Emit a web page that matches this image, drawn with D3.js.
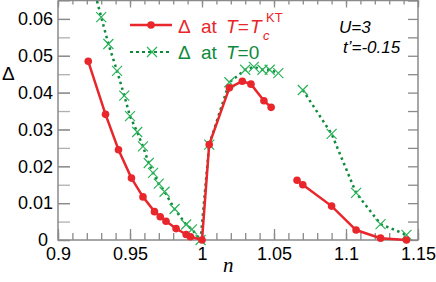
<!DOCTYPE html>
<html>
<head>
<meta charset="utf-8">
<script src="https://cdn.jsdelivr.net/npm/d3@7"></script>
<style>
  body { margin: 0; background: #fff; }
  svg { display: block; font-family: "Liberation Sans", Arial, sans-serif; }
  .tick text { font-size: 18px; fill: #000; }
</style>
</head>
<body>
<svg id="chart" width="436" height="282"></svg>
<script>
// Delta at T = Tc^KT (null marks the break in the curve)
const nRed = [0.921, 0.933, 0.942, 0.951, 0.959, 0.967, 0.971, 0.975, 0.982, 0.989, 0.992, 1.0,
  1.005, 1.019, 1.028, 1.034, 1.043, 1.048, null,
  1.066, 1.070, 1.090, 1.107, 1.124, 1.142];
const dRed = [0.0485, 0.0341, 0.0245, 0.0168, 0.0117, 0.0077, 0.0063, 0.0051, 0.0031, 0.0015, 0.0009, 0,
  0.0259, 0.0413, 0.0431, 0.0423, 0.0378, 0.0360, null,
  0.0162, 0.0150, 0.0092, 0.0027, 0.0005, 0];

// Delta at T = 0
const nGreen = [0.925, 0.930, 0.935, 0.941, 0.946, 0.950, 0.955, 0.959, 0.963, 0.966, 0.970, 0.974,
  0.981, 0.989, 0.993, 0.999, 1.005, 1.019, 1.030, 1.036, 1.042, 1.047, 1.053, null,
  1.070, 1.090, 1.107, 1.124, 1.142];
const dGreen = [0.068, 0.0605, 0.0532, 0.0459, 0.0392, 0.0336, 0.0293, 0.0254, 0.0209, 0.0182, 0.0153, 0.0131,
  0.0084, 0.0042, 0.0029, 0, 0.0259, 0.0428, 0.0462, 0.0470, 0.0462, 0.0462, 0.0453, null,
  0.0407, 0.0288, 0.0128, 0.0043, 0.0014];

const xTicks = [0.9, 0.95, 1, 1.05, 1.1, 1.15];
const yTicks = [0, 0.01, 0.02, 0.03, 0.04, 0.05, 0.06];

const red = '#e8262b';
const green = '#0d8a3c';
const crossColor = '#2bb35a';
const axisColor = '#8a8a8a';

const svg = d3.select('#chart');
const mLeft = 58, mRight = 418, mTop = 0.5, mBottom = 240;

const x = d3.scaleLinear().domain([0.9, 1.15]).range([mLeft, mRight]);
const y = d3.scaleLinear().domain([0, 0.065]).range([mBottom, mTop]);

const xMinor = d3.range(90, 116).map(i => i / 100);
const yMinor = d3.range(0, 14).map(i => i * 0.005);

function styleAxis(g) {
  g.select('.domain').remove();
  g.selectAll('.tick line').attr('stroke', axisColor).attr('stroke-width', 1.3);
}

// minor ticks
svg.append('g').attr('transform', `translate(0,${mBottom})`)
  .call(d3.axisBottom(x).tickValues(xMinor).tickSize(-7).tickFormat(''))
  .call(styleAxis);
svg.append('g').attr('transform', `translate(0,${mTop})`)
  .call(d3.axisTop(x).tickValues(xMinor).tickSize(-4).tickFormat(''))
  .call(styleAxis);
svg.append('g').attr('transform', `translate(${mLeft},0)`)
  .call(d3.axisLeft(y).tickValues(yMinor).tickSize(-12).tickFormat(''))
  .call(styleAxis)
  .selectAll('.tick line').attr('stroke', '#b0b0b0');
svg.append('g').attr('transform', `translate(${mRight},0)`)
  .call(d3.axisRight(y).tickValues(yMinor).tickSize(-10).tickFormat(''))
  .call(styleAxis);

// major ticks with labels
svg.append('g').attr('transform', `translate(0,${mBottom})`)
  .call(d3.axisBottom(x).tickValues(xTicks).tickSize(-11).tickPadding(7)
    .tickFormat(d => String(+d.toFixed(2))))
  .call(styleAxis);
svg.append('g').attr('transform', `translate(0,${mTop})`)
  .call(d3.axisTop(x).tickValues(xTicks).tickSize(-7).tickFormat(''))
  .call(styleAxis);
svg.append('g').attr('transform', `translate(${mLeft},0)`)
  .call(d3.axisLeft(y).tickValues(yTicks).tickSize(-12).tickPadding(5)
    .tickFormat(d => d === 0 ? '0' : d.toFixed(2)))
  .call(styleAxis)
  .call(g => g.selectAll('.tick text').filter(d => d === 0).attr('dx', -5));

// frame
svg.append('path')
  .attr('d', `M${mLeft},${mTop}V${mBottom}H${mRight}V${mTop}H${mLeft}`)
  .attr('fill', 'none')
  .attr('stroke', axisColor)
  .attr('stroke-width', 1.5);

svg.append('clipPath').attr('id', 'plot-clip')
  .append('rect')
  .attr('x', mLeft).attr('y', mTop)
  .attr('width', mRight - mLeft).attr('height', mBottom - mTop + 6);

const plot = svg.append('g').attr('clip-path', 'url(#plot-clip)');

const line = d3.line()
  .defined(d => d[0] !== null)
  .x(d => x(d[0]))
  .y(d => y(d[1]));

const greenPts = nGreen.map((n, i) => [n, dGreen[i]]);
const redPts = nRed.map((n, i) => [n, dRed[i]]);

plot.append('path')
  .attr('d', line(greenPts))
  .attr('fill', 'none')
  .attr('stroke', green)
  .attr('stroke-width', 2.5)
  .attr('stroke-dasharray', '2.5,3.5');

const crossPath = s => `M${-s},${-s}L${s},${s}M${-s},${s}L${s},${-s}`;

plot.selectAll('.cross')
  .data(greenPts.filter(d => d[0] !== null))
  .join('path')
  .attr('class', 'cross')
  .attr('transform', d => `translate(${x(d[0])},${y(d[1])})`)
  .attr('d', crossPath(5))
  .attr('fill', 'none')
  .attr('stroke', crossColor)
  .attr('stroke-width', 1.2);

plot.append('path')
  .attr('d', line(redPts))
  .attr('fill', 'none')
  .attr('stroke', red)
  .attr('stroke-width', 2.5);

plot.selectAll('.dot')
  .data(redPts.filter(d => d[0] !== null))
  .join('circle')
  .attr('class', 'dot')
  .attr('cx', d => x(d[0]))
  .attr('cy', d => y(d[1]))
  .attr('r', 3.8)
  .attr('fill', red);

// legend
const legend = svg.append('g');
legend.append('line')
  .attr('x1', 130).attr('x2', 172).attr('y1', 25).attr('y2', 25)
  .attr('stroke', red).attr('stroke-width', 2.5);
legend.append('circle').attr('cx', 151).attr('cy', 25).attr('r', 3.8).attr('fill', red);
legend.append('line')
  .attr('x1', 130).attr('x2', 172).attr('y1', 52).attr('y2', 52)
  .attr('stroke', green).attr('stroke-width', 2.2)
  .attr('stroke-dasharray', '3,3');
legend.append('path')
  .attr('transform', 'translate(152,52)')
  .attr('d', crossPath(5))
  .attr('stroke', crossColor).attr('stroke-width', 1.2);

const t1 = legend.append('text').attr('y', 33).attr('fill', red).style('font-size', '19px');
t1.append('tspan').attr('x', 178).text('Δ');
t1.append('tspan').attr('x', 201).text('at');
t1.append('tspan').attr('x', 226).style('font-style', 'italic').text('T=');
t1.append('tspan').attr('x', 250).style('font-style', 'italic').text('T');
t1.append('tspan').attr('x', 263).attr('y', 40).style('font-style', 'italic').style('font-size', '13px').text('c');
t1.append('tspan').attr('x', 266).attr('y', 22).style('font-size', '13px').text('KT');

const t2 = legend.append('text').attr('y', 59).attr('fill', green).style('font-size', '19px');
t2.append('tspan').attr('x', 178).text('Δ');
t2.append('tspan').attr('x', 201).text('at');
t2.append('tspan').attr('x', 226).style('font-style', 'italic').text('T');
t2.append('tspan').text('=0');

// annotations
svg.append('text').attr('x', 339).attr('y', 33)
  .style('font-size', '17px').style('font-style', 'italic').text('U=3');
svg.append('text').attr('x', 343).attr('y', 53)
  .style('font-size', '17px').style('font-style', 'italic').text('t’=-0.15');

// axis titles
svg.append('text').attr('x', 2).attr('y', 80)
  .style('font-size', '19px').text('Δ');
svg.append('text').attr('x', 223).attr('y', 272)
  .style('font-family', '"Liberation Serif", serif')
  .style('font-style', 'italic').style('font-size', '21px').text('n');
</script>
</body>
</html>
